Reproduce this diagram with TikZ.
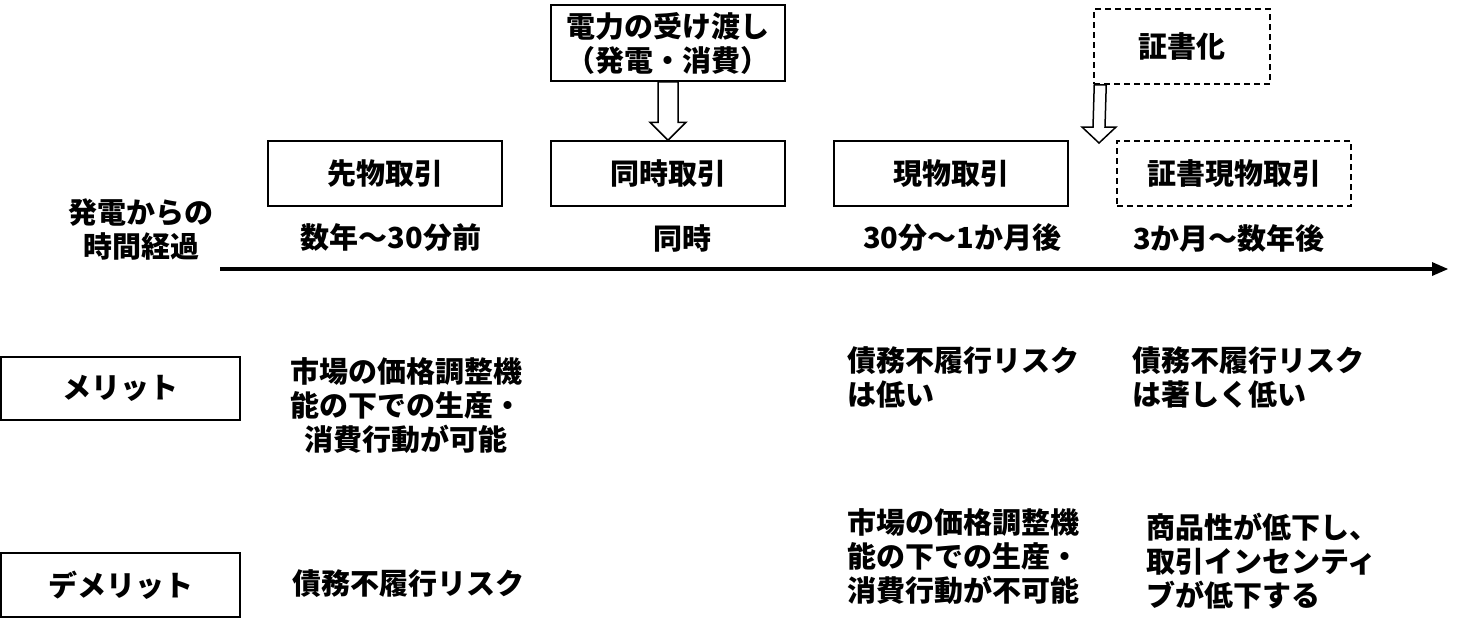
\documentclass[tikz,border=0pt]{standalone}
\usepackage{fontspec}
\setmainfont{Noto Sans CJK JP}
\usetikzlibrary{calc}
\tikzset{
  txt/.style={inner sep=0pt, font=\fontsize{29}{34}\selectfont\bfseries},
  box/.style={draw, line width=1.5pt, minimum width=234pt, minimum height=65pt, inner sep=0pt, font=\fontsize{29}{34}\selectfont\bfseries},
  dbox/.style={box, dash pattern=on 6pt off 4pt},
  hollow/.style={draw, line width=1.5pt, fill=white, line join=miter},
}
\begin{document}
\begin{tikzpicture}[x=1pt,y=-1pt]
\useasboundingbox (0,0) rectangle (1464,633);
% top boxes
\node[box, minimum height=76pt, align=center] (pw) at (668,43) {電力の受け渡し\\（発電・消費）};
\node[dbox, minimum width=176pt, minimum height=75pt] (cert) at (1182,46.5) {証書化};
% row boxes
\node[box] (fut) at (385,173.5) {先物取引};
\node[box] (sim) at (668,173.5) {同時取引};
\node[box] (spot) at (951,173.5) {現物取引};
\node[dbox] (cspot) at (1234,173.5) {証書現物取引};
% hollow arrows
\draw[hollow] ($(pw.south)+(-10,0)$) -- ($(pw.south)+(10,0)$) -- ($(sim.north)+(10,-18)$) -- ($(sim.north)+(18,-18)$) -- (sim.north) -- ($(sim.north)+(-18,-18)$) -- ($(sim.north)+(-10,-18)$) -- cycle;
\coordinate (ctip) at (1099,143);
\draw[hollow] ($(cert.south west)+(1,0)$) -- ($(cert.south west)+(13,0)$) -- ($(ctip)+(6,-16)$) -- ($(ctip)+(17,-16)$) -- (ctip) -- ($(ctip)+(-17,-16)$) -- ($(ctip)+(-6,-16)$) -- cycle;
% time labels
\node[txt, align=center] (tl) at (141,229) {発電からの\\時間経過};
\node[txt] (t1) at (391,238) {数年～30分前};
\node[txt] (t2) at (682,238) {同時};
\node[txt] (t3) at (962,238) {30分～1か月後};
\node[txt] (t4) at (1229,238) {3か月～数年後};
% timeline
\coordinate (ts) at (220,269);
\coordinate (te) at (1448,269);
\draw[line width=4pt] (ts) -- ($(te)+(-14,0)$);
\fill ($(te)+(-16,-7)$) -- (te) -- ($(te)+(-16,7)$) -- cycle;
% merit / demerit
\node[box, minimum width=239pt, minimum height=63pt] (mer) at (120.5,388.5) {メリット};
\node[box, minimum width=239pt, minimum height=64pt] (dem) at (120.5,585) {デメリット};
\node[txt, align=center] (m1) at (406,406) {市場の価格調整機\\能の下での生産・\\消費行動が可能};
\node[txt, align=left, anchor=north west] (m3) at (847,346) {債務不履行リスク\\は低い};
\node[txt, align=left, anchor=north west] (m4) at (1132,346) {債務不履行リスク\\は著しく低い};
\node[txt, anchor=west] (d1) at (292,584) {債務不履行リスク};
\node[txt, align=left, anchor=north west] (d3) at (847,508) {市場の価格調整機\\能の下での生産・\\消費行動が不可能};
\node[txt, align=left, anchor=north west] (d4) at (1146,513) {商品性が低下し、\\取引インセンティ\\ブが低下する};
\end{tikzpicture}
\end{document}
